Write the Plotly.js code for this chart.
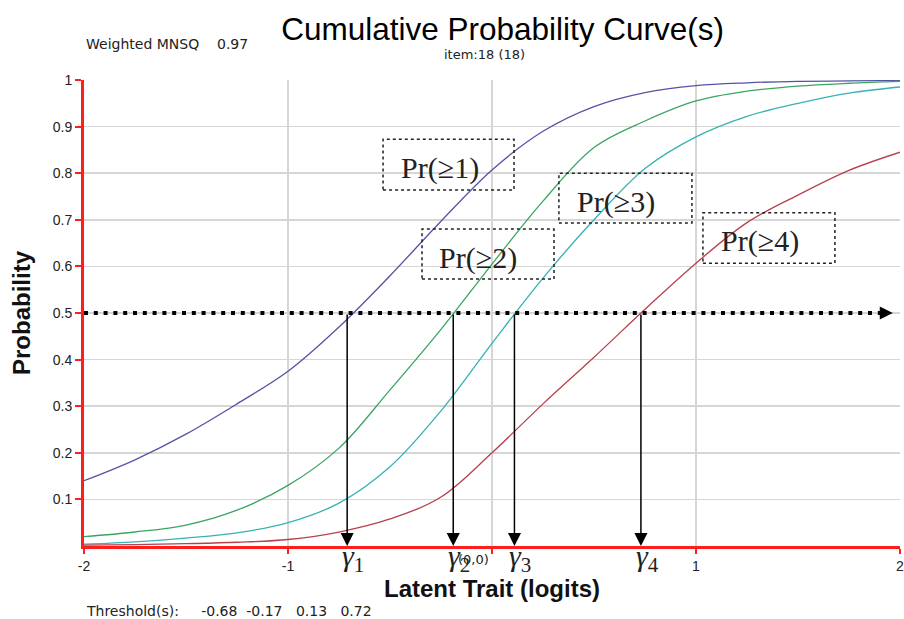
<!DOCTYPE html>
<html>
<head>
<meta charset="utf-8">
<script src="https://cdn.plot.ly/plotly-3.0.1.min.js"></script>
<style>html,body{margin:0;padding:0;background:#fff;}#chart{width:904px;height:619px;}</style>
</head>
<body>
<div id="chart"></div>
<script>
// Latent trait (logits)
const theta = [-2, -1.75, -1.5, -1.25, -1, -0.75, -0.5, -0.25, 0, 0.25, 0.5, 0.75, 1, 1.25, 1.5, 1.75, 2];
// Cumulative probability curves
const pr1 = [0.14, 0.185, 0.24, 0.305, 0.375, 0.47, 0.58, 0.697, 0.807, 0.89, 0.943, 0.973, 0.988, 0.994, 0.997, 0.998, 0.999];
const pr2 = [0.02, 0.03, 0.045, 0.077, 0.13, 0.21, 0.335, 0.465, 0.605, 0.74, 0.855, 0.912, 0.955, 0.976, 0.987, 0.993, 0.997];
const pr3 = [0.004, 0.009, 0.017, 0.028, 0.05, 0.092, 0.17, 0.29, 0.435, 0.575, 0.70, 0.81, 0.878, 0.922, 0.95, 0.972, 0.985];
const pr4 = [0.002, 0.003, 0.005, 0.008, 0.014, 0.03, 0.058, 0.105, 0.2, 0.305, 0.405, 0.508, 0.607, 0.694, 0.753, 0.806, 0.845];
const seriesNames = ['Pr(≥1)', 'Pr(≥2)', 'Pr(≥3)', 'Pr(≥4)'];
// Threshold arrow positions (as drawn) and reported thresholds
const gammaX = [-0.71, -0.19, 0.11, 0.73];
const thresholds = ['-0.68', '-0.17', '&nbsp;0.13', '&nbsp;0.72'];
const xTickVals = [-2, -1, 0, 1, 2];
const xTickText = ['-2', '-1', '', '1', '2'];
const yTickVals = [0.1, 0.2, 0.3, 0.4, 0.5, 0.6, 0.7, 0.8, 0.9, 1];
const yTickText = ['0.1', '0.2', '0.3', '0.4', '0.5', '0.6', '0.7', '0.8', '0.9', '1'];
const halfProb = 0.5;

const colors = ['#5454a6', '#3aa563', '#35b2b4', '#b8404a'];
const ys = [pr1, pr2, pr3, pr4];

const traces = ys.map((y, i) => ({
  x: theta, y: y, type: 'scatter', mode: 'lines', name: seriesNames[i],
  line: {color: colors[i], width: 1.3, shape: 'spline', smoothing: 1},
  hoverinfo: 'skip'
}));

const sans = 'Liberation Sans, Arial, sans-serif';
const wide = 'DejaVu Sans, Verdana, sans-serif';
const serif = 'Liberation Serif, Times New Roman, serif';

// label boxes: [x0, x1, y0, y1, textX, textY]
const boxes = [
  [-0.534, 0.108, 0.764, 0.873, -0.255, 0.812],
  [-0.343, 0.304, 0.573, 0.680, -0.069, 0.619],
  [0.328, 0.980, 0.693, 0.800, 0.608, 0.739],
  [1.034, 1.681, 0.607, 0.715, 1.314, 0.655]
];

const shapes = boxes.map(b => ({
  type: 'rect', xref: 'x', yref: 'y', x0: b[0], x1: b[1], y0: b[2], y1: b[3],
  line: {color: '#222', width: 1.5, dash: 'dot'}, fillcolor: 'rgba(0,0,0,0)', layer: 'above'
}));
shapes.push({
  type: 'line', xref: 'x', yref: 'y', x0: -2, x1: 1.92, y0: halfProb, y1: halfProb,
  line: {color: '#000', width: 4, dash: '4px,5.8px'}, layer: 'above'
});

const annotations = [];
boxes.forEach((b, i) => annotations.push({
  xref: 'x', yref: 'y', x: b[4], y: b[5], text: seriesNames[i], showarrow: false,
  font: {family: serif, size: 30, color: '#222'}, xanchor: 'center', yanchor: 'middle'
}));
gammaX.forEach((g, i) => {
  annotations.push({
    xref: 'x', yref: 'y', x: g, y: 0, ax: g, ay: halfProb, axref: 'x', ayref: 'y',
    text: '', showarrow: true, arrowhead: 2, arrowsize: 1.75, arrowwidth: 1.5, arrowcolor: '#000', standoff: 0
  });
  annotations.push({
    xref: 'x', yref: 'y', x: g, y: 0, xshift: -7, yshift: 9, xanchor: 'left', yanchor: 'top',
    text: '<i>γ</i><sub>' + (i + 1) + '</sub>', showarrow: false,
    font: {family: serif, size: 30, color: '#222'}
  });
});
annotations.push({
  xref: 'x', yref: 'y', x: 1.965, y: halfProb, ax: 1.93, ay: halfProb, axref: 'x', ayref: 'y',
  text: '', showarrow: true, arrowhead: 2, arrowsize: 1.75, arrowwidth: 1.5, arrowcolor: '#000', standoff: 0
});
annotations.push({
  xref: 'paper', yref: 'paper', x: 0.477, y: -0.03, text: '(0,0)', showarrow: false,
  font: {family: wide, size: 13, color: '#222'}, xanchor: 'center', yanchor: 'middle'
});
annotations.push({
  xref: 'paper', yref: 'paper', x: 0, y: 1.077, text: 'Weighted MNSQ&nbsp;&nbsp;&nbsp;&nbsp;0.97', showarrow: false,
  font: {family: wide, size: 14, color: '#222'}, xanchor: 'left', yanchor: 'middle'
});
annotations.push({
  xref: 'paper', yref: 'paper', x: 0.491, y: 1.054, text: 'item:18 (18)', showarrow: false,
  font: {family: wide, size: 13, color: '#222'}, xanchor: 'center', yanchor: 'middle'
});
annotations.push({
  xref: 'paper', yref: 'paper', x: 0, y: -0.139,
  text: 'Threshold(s):&nbsp;&nbsp;&nbsp;&nbsp;&nbsp;' + thresholds.join('&nbsp;&nbsp;'), showarrow: false,
  font: {family: wide, size: 14, color: '#222'}, xanchor: 'left', yanchor: 'middle'
});

const layout = {
  width: 904, height: 619,
  margin: {l: 84, r: 4, t: 80, b: 73},
  paper_bgcolor: '#fff', plot_bgcolor: '#fff',
  showlegend: false,
  title: {
    text: 'Cumulative Probability Curve(s)', xref: 'container', yref: 'container',
    x: 0.556, xanchor: 'center', y: 0.953, yanchor: 'middle',
    font: {family: sans, size: 31.5, color: '#000'}
  },
  xaxis: {
    range: [-2, 2], tickvals: xTickVals, ticktext: xTickText,
    showgrid: true, gridcolor: '#d6d6d6', gridwidth: 1.5, zeroline: false,
    showline: true, linecolor: '#ff1e1e', linewidth: 3,
    ticks: 'outside', tickcolor: '#ff1e1e', ticklen: 5, tickwidth: 2,
    ticklabeloverflow: 'allow',
    tickfont: {family: sans, size: 14, color: '#222'},
    title: {text: '<b>Latent Trait (logits)</b>', font: {family: sans, size: 24, color: '#111'}, standoff: 8}
  },
  yaxis: {
    range: [0, 1], tickvals: yTickVals, ticktext: yTickText,
    showgrid: true, gridcolor: '#d6d6d6', gridwidth: 1.5, zeroline: false,
    showline: true, linecolor: '#ff1e1e', linewidth: 3,
    ticks: 'outside', tickcolor: '#ff1e1e', ticklen: 6, tickwidth: 2,
    tickfont: {family: sans, size: 14, color: '#222'},
    title: {text: '<b>Probability</b>', font: {family: sans, size: 24, color: '#111'}, standoff: 16}
  },
  shapes: shapes,
  annotations: annotations
};

Plotly.newPlot('chart', traces, layout, {displayModeBar: false, staticPlot: true});
</script>
</body>
</html>
